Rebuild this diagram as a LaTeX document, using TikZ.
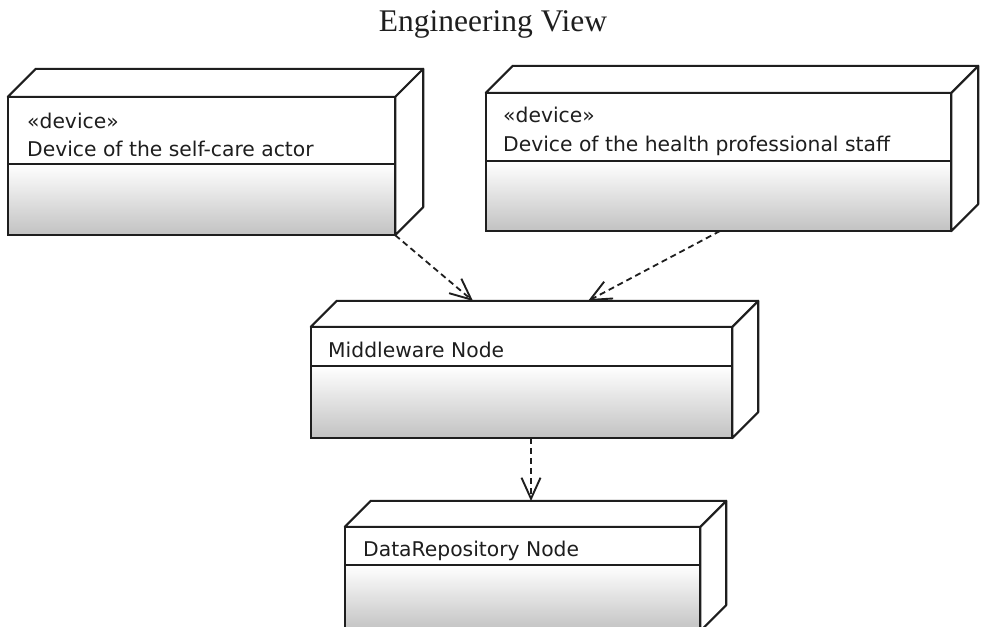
\documentclass[tikz,border=0pt]{standalone}
\usepackage{fontspec}
\setmainfont{Liberation Serif}
\setsansfont{DejaVu Sans}
\usetikzlibrary{arrows.meta,fit}

\definecolor{ink}{HTML}{1E1E1E}

\tikzset{
  face/.style={draw=ink, line width=2.1pt, fill=white, line join=round},
  lowerpart/.style={draw=ink, line width=2.1pt, top color=white, bottom color=black!24},
  labeltext/.style={anchor=base west, inner sep=0pt, text=ink,
                    font=\sffamily\fontsize{20.3}{24}\selectfont},
  titletext/.style={anchor=base, inner sep=0pt, text=ink,
                    font=\rmfamily\fontsize{31.5}{34}\selectfont},
  dep/.style={draw=ink, line width=1.8pt, dash pattern=on 6pt off 4pt,
              -{Straight Barb[length=21pt,width=19pt,line width=1.9pt]}},
}

% UML deployment node drawn as a 3-D box:
% #1 name, (#2,#3)-(#4,#5) front face, #6 y of the compartment line, #7 depth
\newcommand\umlnode[7]{%
  \node[fit={(#2,#3) (#4,#5)}, inner sep=0pt] (#1) {};
  \coordinate (#1-div) at (#2,#6);
  \draw[face] (#1.north east) -- ++(#7,-#7)
      -- ([shift={(#7,-#7)}]#1.south east) -- (#1.south east) -- cycle;
  \draw[face] (#1.north west) -- ++(#7,-#7)
      -- ([shift={(#7,-#7)}]#1.north east) -- (#1.north east) -- cycle;
  \draw[face] (#1.north west) rectangle (#1.east |- #1-div);
  \draw[lowerpart] (#1-div) rectangle (#1.south east);
}

\begin{document}
\begin{tikzpicture}[x=1pt,y=-1pt]
  \clip (0,0) rectangle (981,626);
  \fill[white] (0,0) rectangle (981,626);

  \node[titletext] (title) at (493,32) {Engineering View};

  % nodes
  \umlnode{selfcare}{8}{97}{395}{235}{164}{28}
  \node[labeltext] (selfcare-st) at (27,128) {«device»};
  \node[labeltext] (selfcare-nm) at (27,156) {Device of the self-care actor};

  \umlnode{staff}{486}{93}{951}{231}{161}{27}
  \node[labeltext] (staff-st) at (503,122) {«device»};
  \node[labeltext] (staff-nm) at (503,151) {Device of the health professional staff};

  \umlnode{mw}{311}{327}{732}{438}{366}{26}
  \node[labeltext] (mw-nm) at (328,357) {Middleware Node};

  \umlnode{repo}{345}{527}{700}{631}{565}{26}
  \node[labeltext] (repo-nm) at (363,556) {DataRepository Node};

  % connector end points on the back edges
  \coordinate (staff-out) at (720,231);
  \coordinate (mw-in1) at (473,301);
  \coordinate (mw-in2) at (588,301);
  \coordinate (mw-out) at (531,438);
  \coordinate (repo-in) at (531,501);

  % dependencies
  \draw[dep] (selfcare.south east) -- (mw-in1);
  \draw[dep] (staff-out) -- (mw-in2);
  \draw[dep] (mw-out) -- (repo-in);
\end{tikzpicture}
\end{document}
